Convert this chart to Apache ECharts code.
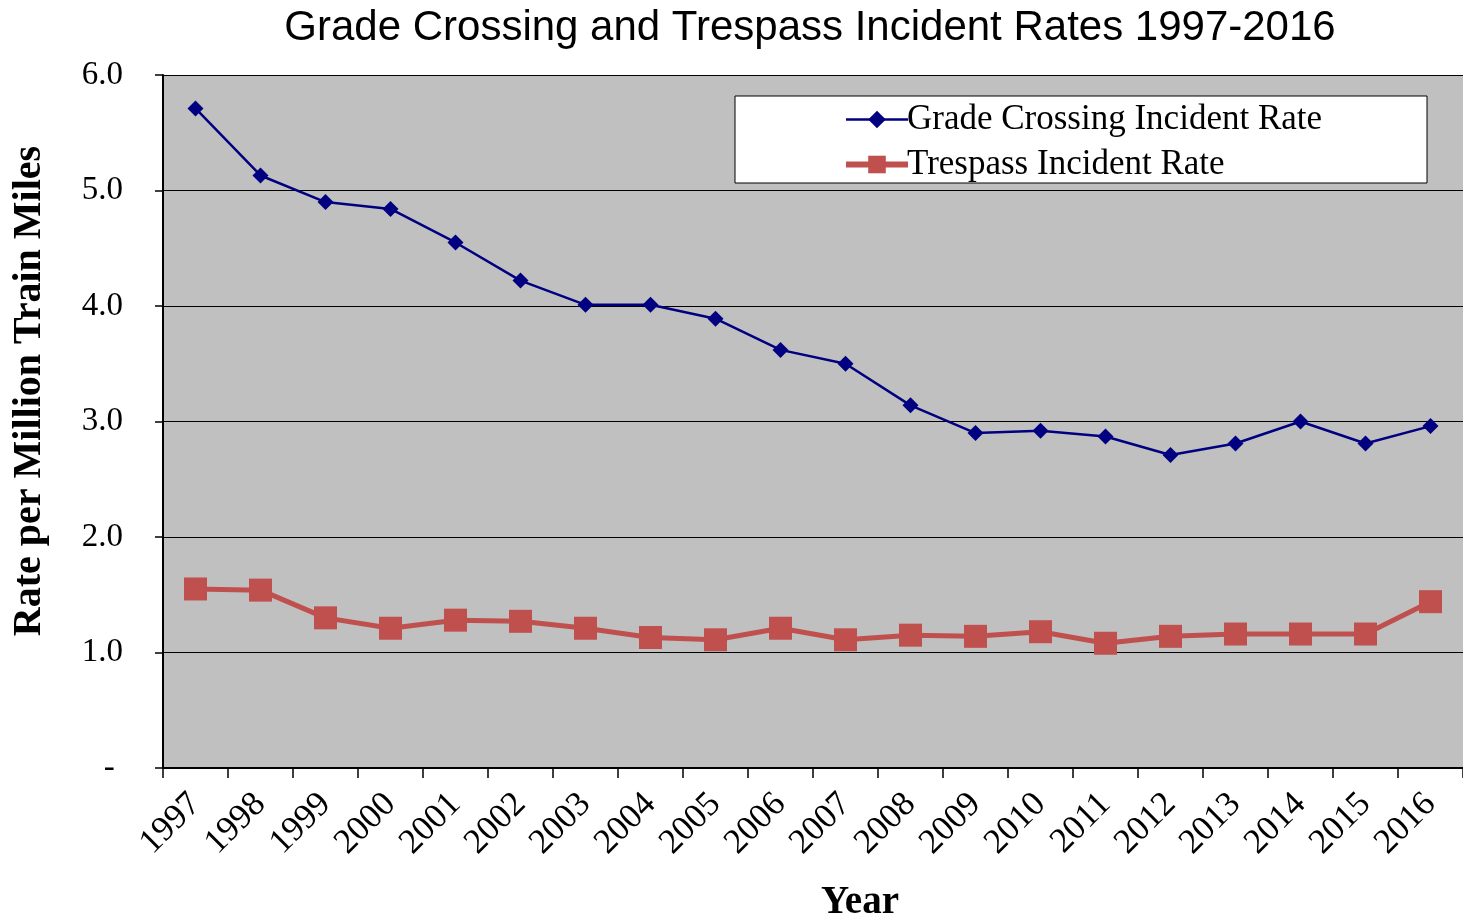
<!DOCTYPE html>
<html lang="en">
<head>
    <meta charset="UTF-8">
    <title>Grade Crossing and Trespass Incident Rates</title>
    <script src="https://cdn.jsdelivr.net/npm/echarts@6/dist/echarts.min.js"></script>
    <style>
        html, body { margin: 0; padding: 0; background: #fff; }
    </style>
</head>
<body>
<div id="container" style="width:1463px;height:920px;"></div>
<script>
    var years = ['1997', '1998', '1999', '2000', '2001', '2002', '2003', '2004', '2005', '2006',
        '2007', '2008', '2009', '2010', '2011', '2012', '2013', '2014', '2015', '2016'];
    var gradeCrossing = [5.71, 5.13, 4.90, 4.84, 4.55, 4.22, 4.01, 4.01, 3.89, 3.62,
        3.50, 3.14, 2.90, 2.92, 2.87, 2.71, 2.81, 3.00, 2.81, 2.96];
    var trespass = [1.55, 1.54, 1.30, 1.21, 1.28, 1.27, 1.21, 1.13, 1.11, 1.21,
        1.11, 1.15, 1.14, 1.18, 1.08, 1.14, 1.16, 1.16, 1.16, 1.44];

    var serif = '"Liberation Serif", "Times New Roman", serif';

    var myChart = echarts.init(document.getElementById('container'));
    var option = {
        animation: false,
        backgroundColor: '#fff',
        title: {
            text: 'Grade Crossing and Trespass Incident Rates 1997-2016',
            left: 805,
            top: 2,
            textAlign: 'center',
            textStyle: {
                fontFamily: '"Liberation Sans", Arial, sans-serif',
                fontSize: 42,
                fontWeight: 'normal',
                color: '#000'
            }
        },
        grid: {
            left: 163,
            top: 75,
            right: 0,
            bottom: 152,
            show: true,
            backgroundColor: '#c0c0c0',
            borderWidth: 0
        },
        legend: {
            orient: 'vertical',
            left: 838,
            top: 97,
            itemWidth: 62,
            itemHeight: 22,
            itemGap: 10,
            textStyle: {
                fontFamily: serif,
                fontSize: 35,
                lineHeight: 34,
                color: '#000',
                padding: [0, 0, 0, -6]
            },
            data: [
                {name: 'Grade Crossing Incident Rate', lineStyle: {width: 2.5}},
                {name: 'Trespass Incident Rate', lineStyle: {width: 6}}
            ]
        },
        graphic: [
            {
                type: 'rect',
                z: 0,
                shape: {x: 735, y: 96, width: 692, height: 87},
                style: {fill: '#fff', stroke: '#000', lineWidth: 1}
            },
            {
                type: 'text',
                x: 30,
                y: 391,
                rotation: Math.PI / 2,
                style: {
                    text: 'Rate per Million Train Miles',
                    font: 'bold 40px ' + serif,
                    fill: '#000',
                    align: 'center',
                    verticalAlign: 'middle'
                }
            },
            {
                type: 'text',
                x: 860,
                y: 903,
                style: {
                    text: 'Year',
                    font: 'bold 39px ' + serif,
                    fill: '#000',
                    align: 'center',
                    verticalAlign: 'middle'
                }
            }
        ],
        xAxis: {
            type: 'category',
            data: years,
            boundaryGap: true,
            axisLine: {lineStyle: {color: '#000', width: 2}},
            axisTick: {show: true, length: 10, lineStyle: {color: '#000', width: 1.5}},
            axisLabel: {
                rotate: 45,
                margin: 31,
                fontFamily: serif,
                fontSize: 35,
                color: '#000'
            },
            splitLine: {show: false}
        },
        yAxis: {
            type: 'value',
            min: 0,
            max: 6,
            interval: 1,
            axisLine: {show: true, lineStyle: {color: '#000', width: 2}},
            axisTick: {show: true, length: 8, lineStyle: {color: '#000', width: 1.5}},
            axisLabel: {
                margin: 40,
                fontFamily: serif,
                fontSize: 33,
                color: '#000',
                formatter: function (v) {
                    return v === 0 ? '- ' : v.toFixed(1);
                }
            },
            splitLine: {lineStyle: {color: '#000', width: 1}}
        },
        series: [
            {
                name: 'Grade Crossing Incident Rate',
                type: 'line',
                data: gradeCrossing,
                symbol: 'diamond',
                symbolSize: 16,
                lineStyle: {color: '#000080', width: 2.5},
                itemStyle: {color: '#000080'}
            },
            {
                name: 'Trespass Incident Rate',
                type: 'line',
                data: trespass,
                symbol: 'rect',
                symbolSize: 23,
                lineStyle: {color: '#c0504d', width: 5},
                itemStyle: {color: '#c0504d'}
            }
        ]
    };
    myChart.setOption(option);
</script>
</body>
</html>
